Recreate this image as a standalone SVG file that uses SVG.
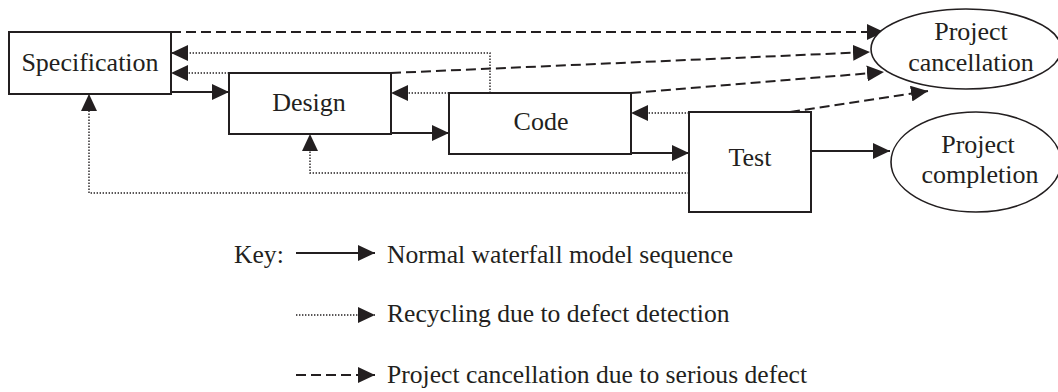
<svg xmlns="http://www.w3.org/2000/svg" width="1058" height="392" viewBox="0 0 1058 392">
  <style>
    .box { fill: #fff; stroke: #231f20; stroke-width: 2; }
    .lbl { font-family: "Liberation Serif", "Times New Roman", serif; font-size: 26px; fill: #231f20; text-anchor: middle; }
    .key { font-family: "Liberation Serif", "Times New Roman", serif; font-size: 25.6px; fill: #231f20; }
    .solid { fill: none; stroke: #231f20; stroke-width: 2; }
    .dot { fill: none; stroke: #231f20; stroke-width: 1.4; stroke-dasharray: 1.4 1.6; }
    .dash { fill: none; stroke: #231f20; stroke-width: 2; stroke-dasharray: 10 5; }
  </style>
  <defs>
    <marker id="head" markerUnits="userSpaceOnUse" markerWidth="17" markerHeight="16" refX="17" refY="8" orient="auto">
      <path d="M0,0 L17,8 L0,16 Z" fill="#231f20"/>
    </marker>
  </defs>
  <rect width="1058" height="392" fill="#fff"/>

  <!-- connectors -->
  <g id="connectors">
    <!-- normal sequence -->
    <path class="solid" d="M171,92 H229" marker-end="url(#head)"/>
    <path class="solid" d="M391,133 H449" marker-end="url(#head)"/>
    <path class="solid" d="M631,153 H689" marker-end="url(#head)"/>
    <path class="solid" d="M811,151 H890" marker-end="url(#head)"/>
    <!-- recycling -->
    <path class="dot" d="M490,93 V53 H171" marker-end="url(#head)"/>
    <path class="dot" d="M229,73 H171" marker-end="url(#head)"/>
    <path class="dot" d="M449,93 H391" marker-end="url(#head)"/>
    <path class="dot" d="M689,113 H631" marker-end="url(#head)"/>
    <path class="dot" d="M689,173 H310 V134" marker-end="url(#head)"/>
    <path class="dot" d="M689,193 H89 V94" marker-end="url(#head)"/>
    <!-- cancellation -->
    <path class="dash" d="M171,32 H884" marker-end="url(#head)"/>
    <path class="dash" d="M391,73 L870,52" marker-end="url(#head)"/>
    <path class="dash" d="M631,93 L884,72" marker-end="url(#head)"/>
    <path class="dash" d="M790,112 L928,91" marker-end="url(#head)"/>
  </g>

  <g id="spec">
    <rect class="box" x="9" y="32" width="162" height="62"/>
    <text class="lbl" x="90" y="71">Specification</text>
  </g>
  <g id="design">
    <rect class="box" x="229" y="73" width="162" height="61"/>
    <text class="lbl" x="309" y="111">Design</text>
  </g>
  <g id="code">
    <rect class="box" x="449" y="93" width="182" height="61"/>
    <text class="lbl" x="541" y="130">Code</text>
  </g>
  <g id="test">
    <rect class="box" x="689" y="112" width="122" height="100"/>
    <text class="lbl" x="750" y="166">Test</text>
  </g>
  <g id="cancel">
    <ellipse class="box" cx="966" cy="49" rx="95" ry="40" style="stroke-width:1.6"/>
    <text class="lbl" x="971" y="40">Project</text>
    <text class="lbl" x="971" y="71">cancellation</text>
  </g>
  <g id="complete">
    <ellipse class="box" cx="976" cy="162" rx="85" ry="50" style="stroke-width:1.6"/>
    <text class="lbl" x="978" y="153">Project</text>
    <text class="lbl" x="980" y="183">completion</text>
  </g>

  <g id="legend">
    <text class="key" x="234" y="263">Key:</text>
    <path class="solid" d="M296,253 H375" marker-end="url(#head)"/>
    <text class="key" x="387" y="263">Normal waterfall model sequence</text>
    <path class="dot" d="M296,315 H375" marker-end="url(#head)"/>
    <text class="key" x="387" y="322">Recycling due to defect detection</text>
    <path class="dash" d="M296,375 H375" stroke-dasharray="12 5" marker-end="url(#head)"/>
    <text class="key" x="387" y="383">Project cancellation due to serious defect</text>
  </g>
</svg>
